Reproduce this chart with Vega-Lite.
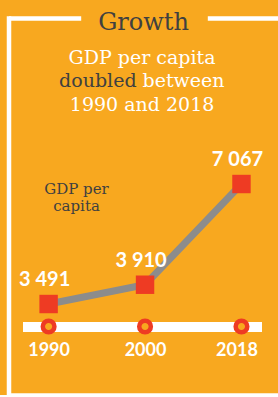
{
  "$schema": "https://vega.github.io/schema/vega-lite/v6.json",
  "width": 270,
  "height": 377,
  "autosize": "none",
  "padding": {"left": 8.5, "top": 18, "right": 0, "bottom": 0},
  "background": "#F8A81F",
  "config": {"view": {"stroke": null}},
  "title": {
    "text": "Growth",
    "anchor": "middle",
    "frame": "group",
    "font": "DejaVu Serif",
    "fontSize": 24,
    "fontWeight": "normal",
    "color": "#404040",
    "baseline": "alphabetic",
    "offset": -36
  },
  "layer": [
    {
      "data": {
        "values": [
          {"year": "1990", "gdp": 3491, "label": "3 491"},
          {"year": "2000", "gdp": 3910, "label": "3 910"},
          {"year": "2018", "gdp": 7067, "label": "7 067"}
        ]
      },
      "encoding": {
        "x": {
          "field": "year",
          "type": "ordinal",
          "scale": {"type": "point", "domain": ["1990", "2000", "2018"], "padding": 0.4, "align": 0.52},
          "axis": {
            "orient": "bottom",
            "offset": -68.5,
            "title": null,
            "grid": false,
            "ticks": false,
            "domainColor": "white",
            "domainWidth": 10,
            "domainDash": [0, 14, 239, 100],
            "labelAngle": 0,
            "labelColor": "white",
            "labelFont": "Lato",
            "labelFontWeight": "bold",
            "labelFontSize": 18,
            "labelBaseline": "alphabetic",
            "labelPadding": 29,
            "labelOffset": {"condition": {"test": "datum.value === '2018'", "value": -5}, "value": 0}
          }
        },
        "y": {
          "field": "gdp",
          "type": "quantitative",
          "scale": {"type": "log", "domain": [2045, 18750], "nice": false, "zero": false},
          "axis": {
            "values": [2045, 18750],
            "labels": false,
            "ticks": false,
            "domainColor": "white",
            "domainWidth": 4.5,
            "domainCap": "square",
            "grid": true,
            "gridColor": "white",
            "gridOpacity": 1,
            "gridWidth": 4.5,
            "gridDash": {"condition": {"test": "datum.value > 10000", "value": [72.2, 126.6, 400]}, "value": []},
            "title": ["GDP per", "capita"],
            "titleAngle": 0,
            "titleX": 67.5,
            "titleY": 175.5,
            "titleAlign": "center",
            "titleBaseline": "alphabetic",
            "titleFont": "DejaVu Serif",
            "titleFontSize": 15,
            "titleFontWeight": "normal",
            "titleColor": "#404040",
            "titleLineHeight": 17
          }
        }
      },
      "layer": [
        {"mark": {"type": "line", "color": "#8C8C8C", "strokeWidth": 7}},
        {"mark": {"type": "point", "shape": "square", "filled": true, "color": "#EE3B23", "opacity": 1, "size": 340}},
        {
          "mark": {"type": "text", "font": "Lato", "fontWeight": "bold", "fontSize": 20, "color": "white", "baseline": "alphabetic", "dy": -18, "dx": -4},
          "encoding": {"text": {"field": "label"}}
        },
        {
          "mark": {"type": "point", "shape": "circle", "filled": true, "fill": "#F8A81F", "stroke": "#EE3B23", "strokeWidth": 4.5, "opacity": 1, "size": 135},
          "encoding": {"y": {"datum": 3059, "type": "quantitative"}}
        }
      ]
    },
    {
      "data": {
        "values": [
          {"line": 1, "text": "GDP per capita", "part": "center", "emph": "no"},
          {"line": 2, "text": "doubled", "part": "left", "emph": "yes"},
          {"line": 2, "text": "between", "part": "right", "emph": "no"},
          {"line": 3, "text": "1990 and 2018", "part": "center", "emph": "no"}
        ]
      },
      "encoding": {
        "x": {"datum": "2000", "type": "ordinal"},
        "y": {"field": "line", "type": "ordinal", "scale": {"type": "point", "range": [45.5, 93.1], "padding": 0}, "axis": null},
        "text": {"field": "text"},
        "color": {"field": "emph", "type": "nominal", "scale": {"domain": ["no", "yes"], "range": ["white", "#404040"]}, "legend": null}
      },
      "layer": [
        {
          "transform": [{"filter": "datum.part === 'center'"}],
          "mark": {"type": "text", "font": "DejaVu Serif", "fontSize": 19, "align": "center", "baseline": "alphabetic", "dx": -3}
        },
        {
          "transform": [{"filter": "datum.part === 'left'"}],
          "mark": {"type": "text", "font": "DejaVu Serif", "fontSize": 19, "align": "right", "baseline": "alphabetic", "dx": -8.5}
        },
        {
          "transform": [{"filter": "datum.part === 'right'"}],
          "mark": {"type": "text", "font": "DejaVu Serif", "fontSize": 19, "align": "left", "baseline": "alphabetic", "dx": -2.5}
        }
      ]
    }
  ],
  "resolve": {"scale": {"y": "independent"}}
}
